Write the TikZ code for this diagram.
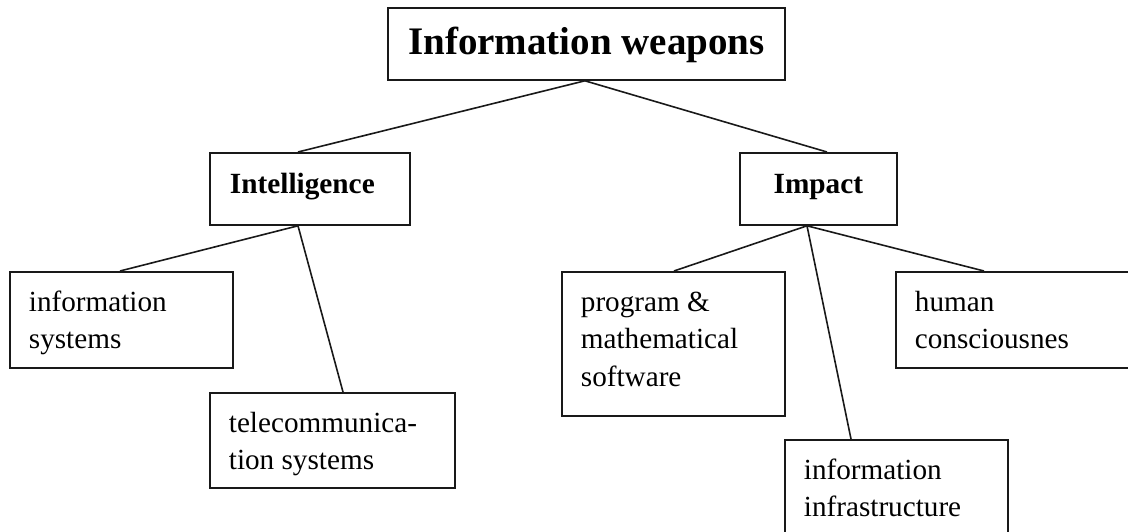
\documentclass[tikz,border=0pt]{standalone}
\usepackage{fontspec}
\setmainfont{Liberation Serif}
\newcommand\leaftext[3]{\parbox[t][#1][t]{#2}{\leftskip=19pt\parindent=0pt\baselineskip=37.5pt\rule{0pt}{39.5pt}#3}}
\begin{document}
\begin{tikzpicture}[x=1pt,y=-1pt,
  boxbase/.style={draw=black!90, line width=1.8pt, inner sep=0pt, anchor=north west},
  hdr/.style={boxbase, font=\bfseries\fontsize{29.3}{35}\selectfont, text height=19pt, text depth=9pt, minimum height=72pt},
  leaf/.style={boxbase, font=\fontsize{29.2}{37.5}\selectfont},
  conn/.style={draw=black!90, line width=1.6pt}]
\useasboundingbox (0,0) rectangle (1128,532);
\clip (0,0) rectangle (1128,532);
% headers
\node[boxbase, font=\bfseries\fontsize{39}{45}\selectfont, text height=28pt, text depth=6pt,
      minimum width=397pt, minimum height=72pt] (top) at (387,7) {Information weapons};
\node[hdr, text width=160pt, align=left, inner xsep=20pt] (intel) at (209,152) {Intelligence};
\node[hdr, minimum width=157pt] (impact) at (739,152) {Impact};
% leaves
\node[leaf] (infosys) at (9,271) {\leaftext{96pt}{223pt}{information\\systems}};
\node[leaf] (telecom) at (209,392) {\leaftext{95pt}{245pt}{telecommunica-\\tion systems}};
\node[leaf] (program) at (561,271) {\leaftext{144pt}{223pt}{program \&\\mathematical\\software}};
\node[leaf] (human) at (895,271) {\leaftext{96pt}{240pt}{human\\consciousnes}};
\node[leaf] (infra) at (784,439) {\leaftext{110pt}{223pt}{information\\infrastructure}};
% connectors
\draw[conn] ([xshift=-1.5pt]top.south) -- ([xshift=89pt]intel.north west);
\draw[conn] ([xshift=-1.5pt]top.south) -- ([xshift=88pt]impact.north west);
\draw[conn] ([xshift=89pt]intel.south west) -- ([xshift=111pt]infosys.north west);
\draw[conn] ([xshift=89pt]intel.south west) -- ([xshift=134pt]telecom.north west);
\draw[conn] ([xshift=68pt]impact.south west) -- ([xshift=113pt]program.north west);
\draw[conn] ([xshift=68pt]impact.south west) -- ([xshift=67pt]infra.north west);
\draw[conn] ([xshift=68pt]impact.south west) -- ([xshift=89pt]human.north west);
\end{tikzpicture}
\end{document}
